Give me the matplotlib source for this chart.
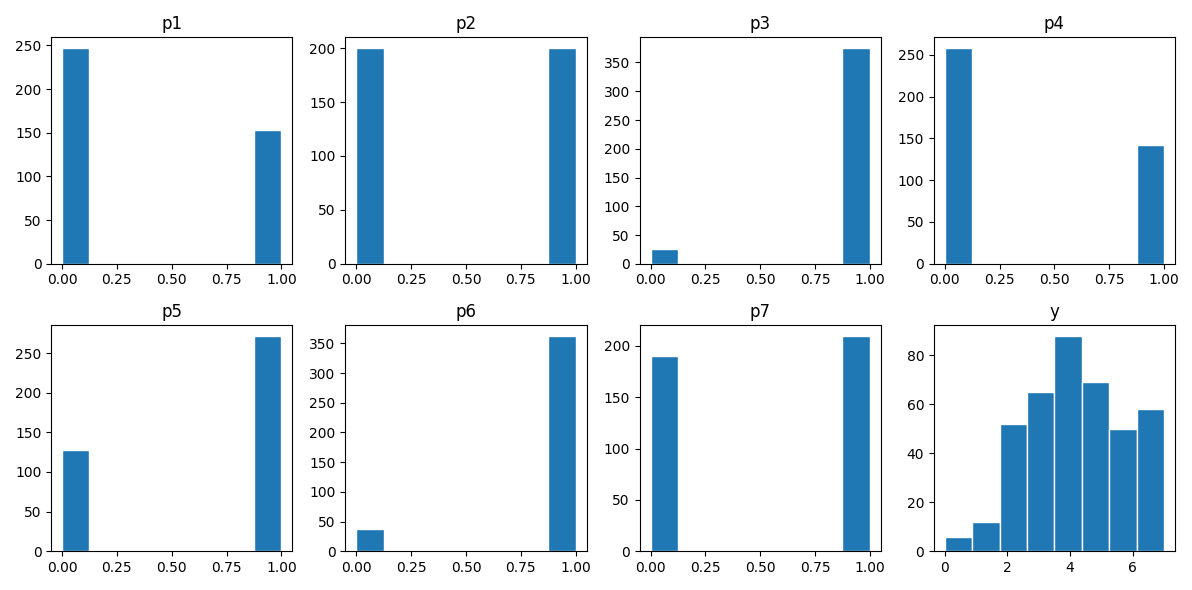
import matplotlib
matplotlib.use("Agg")
import matplotlib.pyplot as plt
import numpy as np

plt.rcParams['font.family'] = ['DejaVu Sans']

names = ["p1", "p2", "p3", "p4", "p5", "p6", "p7"]
binary_values = [0, 1]
p1_counts = [247, 153]
p2_counts = [200, 200]
p3_counts = [25, 375]
p4_counts = [258, 142]
p5_counts = [128, 272]
p6_counts = [37, 363]
p7_counts = [190, 210]
binary_counts = [p1_counts, p2_counts, p3_counts, p4_counts, p5_counts, p6_counts, p7_counts]

y_values = [0, 1, 2, 3, 4, 5, 6, 7]
y_counts = [6, 12, 52, 65, 88, 69, 50, 58]

fig, axes = plt.subplots(2, 4, figsize=(11.92, 5.9), dpi=100)
axes = axes.ravel()
for ax, name, counts in zip(axes, names, binary_counts):
    ax.hist(binary_values, bins=8, weights=counts, color="#1f77b4", edgecolor="white")
    ax.set_title(name)
ax = axes[7]
ax.hist(y_values, bins=8, weights=y_counts, color="#1f77b4", edgecolor="white")
ax.set_title("y")
fig.tight_layout()
fig.savefig("out.png", dpi=100)
